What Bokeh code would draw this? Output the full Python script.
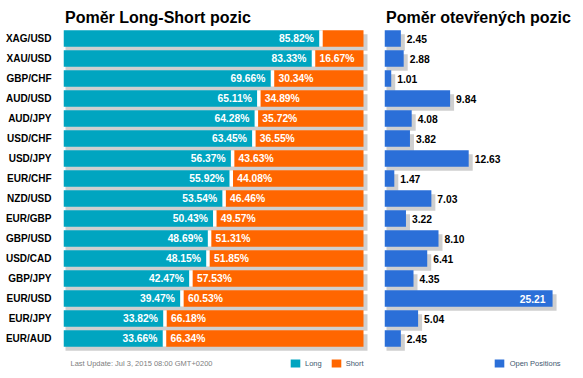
from bokeh.plotting import figure
from bokeh.models import Range1d, FactorRange, ColumnDataSource, Legend, LegendItem, Label, Title
from bokeh.transform import dodge
from bokeh.layouts import row
from bokeh.embed import file_html
from bokeh.resources import INLINE
from bokeh.core.properties import value

# ---------------- data ----------------
pairs = ["XAG/USD", "XAU/USD", "GBP/CHF", "AUD/USD", "AUD/JPY", "USD/CHF", "USD/JPY", "EUR/CHF",
         "NZD/USD", "EUR/GBP", "GBP/USD", "USD/CAD", "GBP/JPY", "EUR/USD", "EUR/JPY", "EUR/AUD"]
long_pct = [85.82, 83.33, 69.66, 65.11, 64.28, 63.45, 56.37, 55.92,
            53.54, 50.43, 48.69, 48.15, 42.47, 39.47, 33.82, 33.66]
short_pct = [14.18, 16.67, 30.34, 34.89, 35.72, 36.55, 43.63, 44.08,
             46.46, 49.57, 51.31, 51.85, 57.53, 60.53, 66.18, 66.34]
open_positions = [2.45, 2.88, 1.01, 9.84, 4.08, 3.82, 12.63, 1.47,
                  7.03, 3.22, 8.10, 6.41, 4.35, 25.21, 5.04, 2.45]

title_left = "Poměr Long-Short pozic"
title_right = "Poměr otevřených pozic"
footer_text = "Last Update: Jul 3, 2015 08:00 GMT+0200"
legend_long = "Long"
legend_short = "Short"
legend_open = "Open Positions"

# ---------------- style ----------------
TEAL = "#00a5c0"
ORANGE = "#ff6600"
BLUE = "#2b6fd8"
SHADOW = "#cfcfcf"
FONT = "Liberation Sans"

H = 374
FRAME_TOP = 28
BAND_PX = 20
N_ROWS = len(pairs) + 1          # one blank band below the bars for footer + legend
FRAME_BOTTOM_BORDER = H - FRAME_TOP - N_ROWS * BAND_PX
BAR_H = 16.5 / BAND_PX
SH_DY = -4 / BAND_PX

L_PX = 3.0                      # pixels per percent
L_MAX = 102.0
L_FRAME_W = L_MAX * L_PX
R_FRAME_W = 180
R_MAX = 27.0
R_PX = R_FRAME_W / R_MAX

factors = FactorRange(factors=[" "] + pairs[::-1])

src = ColumnDataSource(dict(
    pair=pairs,
    zero=[0] * len(pairs),
    long=long_pct,
    short=short_pct,
    total=[a + b for a, b in zip(long_pct, short_pct)],
    long_lbl=["%.2f%%" % v for v in long_pct],
    short_lbl=["%.2f%%" % v if v >= 15 else "" for v in short_pct],
    op=open_positions,
    op_out=["%.2f" % v if v <= 20 else "" for v in open_positions],
    op_in=["%.2f" % v if v > 20 else "" for v in open_positions],
))


def base_fig(width, min_left, min_right, y_axis):
    p = figure(width=width, height=H, y_range=factors, x_axis_location=None,
               y_axis_location=y_axis, toolbar_location=None, output_backend="svg",
               min_border_left=min_left, min_border_right=min_right,
               min_border_top=FRAME_TOP, min_border_bottom=FRAME_BOTTOM_BORDER,
               background_fill_color="white", border_fill_color="white")
    p.outline_line_color = None
    p.grid.visible = False
    return p


def set_title(p, text):
    p.title = Title(text=text, align="left", offset=1.5, standoff=5,
                    text_font=FONT, text_font_size="16px", text_font_style="bold",
                    text_color="#000000")


def make_legend(items, vx, standoff):
    return Legend(items=items, location=(vx, 0), orientation="horizontal", margin=0, padding=0,
                  spacing=8, glyph_width=12, glyph_height=10, label_height=10, label_width=0,
                  label_standoff=standoff, label_text_font=FONT, label_text_font_size="7.5px",
                  label_text_color="#3e576f", border_line_color=None, background_fill_alpha=0)


# ---------------- left: long / short ----------------
L_LEFT = 63
pl = base_fig(370, L_LEFT, 370 - L_LEFT - int(L_FRAME_W), "left")
pl.x_range = Range1d(0, L_MAX)
set_title(pl, title_left)

pl.yaxis.axis_line_color = None
pl.yaxis.major_tick_line_color = None
pl.yaxis.minor_tick_line_color = None
pl.yaxis.major_tick_in = 0
pl.yaxis.major_tick_out = 0
pl.yaxis.major_label_standoff = 12
pl.yaxis.major_label_text_font = FONT
pl.yaxis.major_label_text_font_size = "10px"
pl.yaxis.major_label_text_font_style = "bold"
pl.yaxis.major_label_text_color = "#000000"

pl.hbar(y=dodge("pair", SH_DY, range=factors), left=dodge("zero", 2 / L_PX), right=dodge("total", 4 / L_PX),
        height=BAR_H, source=src, fill_color=SHADOW, line_color=None)
r_long = pl.hbar(y="pair", left="zero", right="long", height=BAR_H, source=src,
                 fill_color=TEAL, line_color=None)
r_short = pl.hbar(y="pair", left="long", right="total", height=BAR_H, source=src,
                  fill_color=ORANGE, line_color=None)
pl.segment(x0="long", x1="long", y0=dodge("pair", BAR_H / 2, range=factors),
           y1=dodge("pair", -BAR_H / 2, range=factors), source=src,
           line_color="white", line_width=3.5, line_cap="butt")

pl.text(x="long", y="pair", text="long_lbl", source=src, text_align="right", text_baseline="middle",
        x_offset=-7, text_color="white", text_font=value(FONT), text_font_style="bold",
        text_font_size=value("10.3px"))
pl.text(x="long", y="pair", text="short_lbl", source=src, text_align="left", text_baseline="middle",
        x_offset=6, text_color="white", text_font=value(FONT), text_font_style="bold",
        text_font_size=value("10.3px"))

pl.add_layout(Label(x=0, y=5.5 / BAND_PX, x_offset=7, text=footer_text, text_font=FONT,
                    text_font_size="7.5px", text_color="#808080", text_baseline="middle"))

pl.add_layout(make_legend([LegendItem(label=legend_long, renderers=[r_long]),
                           LegendItem(label=legend_short, renderers=[r_short])], 226, 4))

# ---------------- right: open positions ----------------
R_LEFT = 384 - 370
pr = base_fig(R_LEFT + R_FRAME_W + 11, R_LEFT, 11, None)
pr.x_range = Range1d(0, R_MAX)
set_title(pr, title_right)

pr.hbar(y=dodge("pair", SH_DY, range=factors), left=dodge("zero", 2 / R_PX), right=dodge("op", 4 / R_PX),
        height=BAR_H, source=src, fill_color=SHADOW, line_color=None)
r_op = pr.hbar(y="pair", left="zero", right="op", height=BAR_H, source=src,
               fill_color=BLUE, line_color=None)
pr.text(x="op", y="pair", text="op_out", source=src, text_align="left", text_baseline="middle",
        x_offset=6, text_color="#000000", text_font=value(FONT), text_font_style="bold",
        text_font_size=value("10.3px"))
pr.text(x="op", y="pair", text="op_in", source=src, text_align="right", text_baseline="middle",
        x_offset=-7, text_color="white", text_font=value(FONT), text_font_style="bold",
        text_font_size=value("10.3px"))

pr.add_layout(make_legend([LegendItem(label=legend_open, renderers=[r_op])], 108.7, 5))

layout = row(pl, pr, spacing=0)
open("out.html", "w").write(file_html(layout, INLINE))
